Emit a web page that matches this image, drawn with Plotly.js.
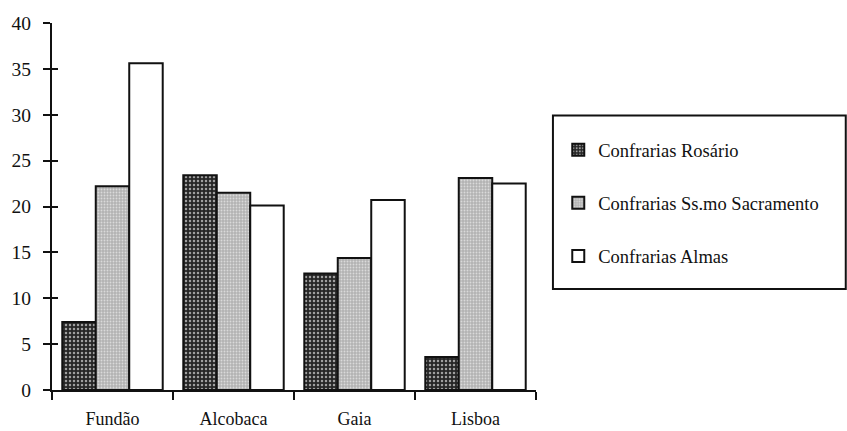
<!DOCTYPE html>
<html>
<head>
<meta charset="utf-8">
<script src="https://cdn.plot.ly/plotly-3.0.1.min.js"></script>
<style>html,body{margin:0;padding:0;background:#fff;}#chart{width:847px;height:431px;}</style>
</head>
<body>
<div id="chart"></div>
<script>
const categories = ['Fundão', 'Alcobaca', 'Gaia', 'Lisboa'];
const rosario = [7.4, 23.4, 12.7, 3.6];
const sacramento = [22.2, 21.5, 14.4, 23.1];
const almas = [35.6, 20.1, 20.7, 22.5];
const seriesNames = ['Confrarias Rosário', 'Confrarias Ss.mo Sacramento', 'Confrarias Almas'];
const yTicks = [0, 5, 10, 15, 20, 25, 30, 35, 40];

const serif = '"Liberation Serif", "Times New Roman", serif';
const line = {color: '#111', width: 2};

const traces = [
  {type: 'bar', x: categories, y: rosario, name: seriesNames[0], legendgroup: 'a',
   marker: {color: '#2a2a2a', line: line, pattern: {shape: '.', fgcolor: '#a0a0a0', bgcolor: '#262626', size: 4, solidity: 0.3}}},
  {type: 'bar', x: categories, y: sacramento, name: seriesNames[1], legendgroup: 'b',
   marker: {color: '#bdbdbd', line: line, pattern: {shape: '.', fgcolor: '#dadada', bgcolor: '#b3b3b3', size: 3, solidity: 0.3}}},
  {type: 'bar', x: categories, y: almas, name: seriesNames[2], legendgroup: 'c',
   marker: {color: '#ffffff', line: line}},
  {type: 'scatter', x: [null], y: [null], yaxis: 'y2', showlegend: false, hoverinfo: 'skip'}
];

const layout = {
  width: 847, height: 431,
  margin: {l: 52, r: 311, t: 23, b: 41},
  paper_bgcolor: '#fff', plot_bgcolor: '#fff',
  font: {family: serif, color: '#111', size: 18},
  barmode: 'group', bargap: 0.17, bargroupgap: 0,
  showlegend: true,
  legend: {x: 1.046, xanchor: 'left', y: 0.705, yanchor: 'top', traceorder: 'grouped',
           tracegroupgap: 26, font: {family: serif, size: 18.5, color: '#111'},
           bgcolor: 'rgba(0,0,0,0)', borderwidth: 0, itemwidth: 30},
  xaxis: {type: 'category', showline: true, linecolor: '#111', linewidth: 2,
          ticks: 'outside', ticklen: 8, tickwidth: 2, tickcolor: '#111', tickson: 'boundaries',
          showgrid: false, zeroline: false, tickfont: {family: serif, size: 18},
          ticklabelstandoff: 11},
  yaxis: {range: [0, 40], tickvals: yTicks, ticktext: yTicks.map(String), showline: true,
          linecolor: '#111', linewidth: 2, ticks: 'outside', ticklen: 7, tickwidth: 2,
          tickcolor: '#111', showgrid: false, zeroline: false,
          tickfont: {family: serif, size: 19.5}, ticklabelstandoff: 8},
  yaxis2: {range: [0, 40], overlaying: 'y', side: 'left', tickvals: yTicks, ticks: 'inside',
           ticklen: 6, tickwidth: 2, tickcolor: '#111', showticklabels: false,
           showgrid: false, zeroline: false, showline: false},
  shapes: [{type: 'rect', xref: 'paper', yref: 'paper', x0: 1.035, x1: 1.64, y0: 0.275, y1: 0.748,
            line: {color: '#111', width: 2}, fillcolor: 'rgba(0,0,0,0)'}]
};

Plotly.newPlot('chart', traces, layout, {displayModeBar: false, staticPlot: true});
</script>
</body>
</html>
